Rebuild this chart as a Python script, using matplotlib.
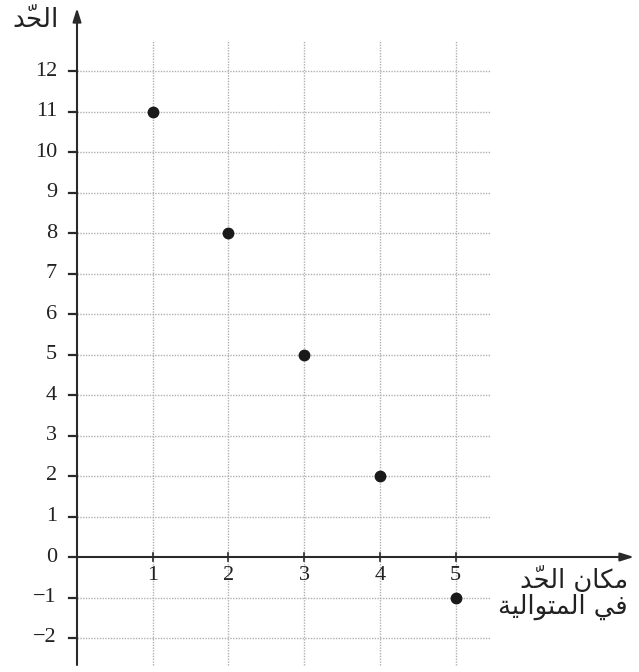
import matplotlib
matplotlib.use("Agg")
import matplotlib.pyplot as plt

# data
positions = [1, 2, 3, 4, 5]
terms = [11, 8, 5, 2, -1]
x_ticks = [1, 2, 3, 4, 5]
y_ticks = list(range(-2, 13))
y_tick_labels = ["\u2212" + str(-v) if v < 0 else str(v) for v in y_ticks]
y_label = "\uFEAA\u0651\uFEA4\uFEDF\uFE8D"  # الحدّ (visual order, shaped)
x_label_1 = "\uFEAA\u0651\uFEA4\uFEDF\uFE8D \uFEE5\uFE8E\uFEDC\uFEE3"  # مكان الحدّ
x_label_2 = "\uFE94\uFEF4\uFEDF\uFE8D\uFEEE\uFE98\uFEE4\uFEDF\uFE8D \uFEF2\uFED3"  # في المتوالية

W, H = 639, 672
fig = plt.figure(figsize=(W / 100, H / 100), dpi=100)
ax = fig.add_axes([0, 0, 1, 1])
ax.axis("off")

x0px, xs = 77, 75.7
y0px, ys = 557, 40.5
ax.set_xlim(-x0px / xs, (W - x0px) / xs)
ax.set_ylim(-(H - y0px) / ys, y0px / ys)

grid_c = "#b0b0b0"
x_grid_end = (490 - x0px) / xs
y_grid_bot = -(665 - y0px) / ys
y_grid_top = (y0px - 40) / ys

for v in y_ticks:
    if v == 0:
        continue
    ax.plot([0, x_grid_end], [v, v], ls=(0, (1, 1)), color=grid_c, lw=1.0, zorder=1)
for v in x_ticks:
    ax.plot([v, v], [y_grid_bot, y_grid_top], ls=(0, (1, 1)), color=grid_c, lw=1.0, zorder=1)

axis_c = "#2a2a2a"
x_tip = (634 - x0px) / xs
y_tip = (y0px - 8) / ys
ax.annotate("", xy=(x_tip, 0), xytext=(0, 0),
            arrowprops=dict(arrowstyle="-|>,head_length=0.8,head_width=0.25", color=axis_c, lw=1.5, shrinkA=0, shrinkB=0),
            zorder=3)
ax.annotate("", xy=(0, y_tip), xytext=(0, y_grid_bot),
            arrowprops=dict(arrowstyle="-|>,head_length=0.8,head_width=0.25", color=axis_c, lw=1.5, shrinkA=0, shrinkB=0),
            zorder=3)

# ticks
tick_len = 8 / xs
for v in y_ticks:
    ax.plot([-tick_len, 0], [v, v], color=axis_c, lw=1.6, zorder=3)
for v in x_ticks:
    ax.plot([v, v], [-4 / ys, 4 / ys], color=axis_c, lw=1.2, zorder=3)

serif = ["Liberation Serif", "DejaVu Serif"]
for v, lab in zip(y_ticks, y_tick_labels):
    ax.text((57 - x0px) / xs, v, lab, ha="right", va="center", fontsize=16,
            family=serif, color="#222222")
for v in x_ticks:
    ax.text(v, -(576 - y0px) / ys, str(v), ha="center", va="center", fontsize=16,
            family=serif, color="#222222")

# points
ax.plot(positions, terms, "o", color="#1a1a1a", ms=7.5, zorder=4)

# labels
ar = ["DejaVu Sans"]
ax.text((36 - x0px) / xs, (y0px - 20) / ys, y_label, ha="center", va="center",
        fontsize=19, family=ar, color="#222222")
ax.text((628 - x0px) / xs, -(580 - y0px) / ys, x_label_1, ha="right", va="center",
        fontsize=18.5, family=ar, color="#222222")
ax.text((628 - x0px) / xs, -(607 - y0px) / ys, x_label_2, ha="right", va="center",
        fontsize=18.5, family=ar, color="#222222")

fig.savefig("out.png", dpi=100)
